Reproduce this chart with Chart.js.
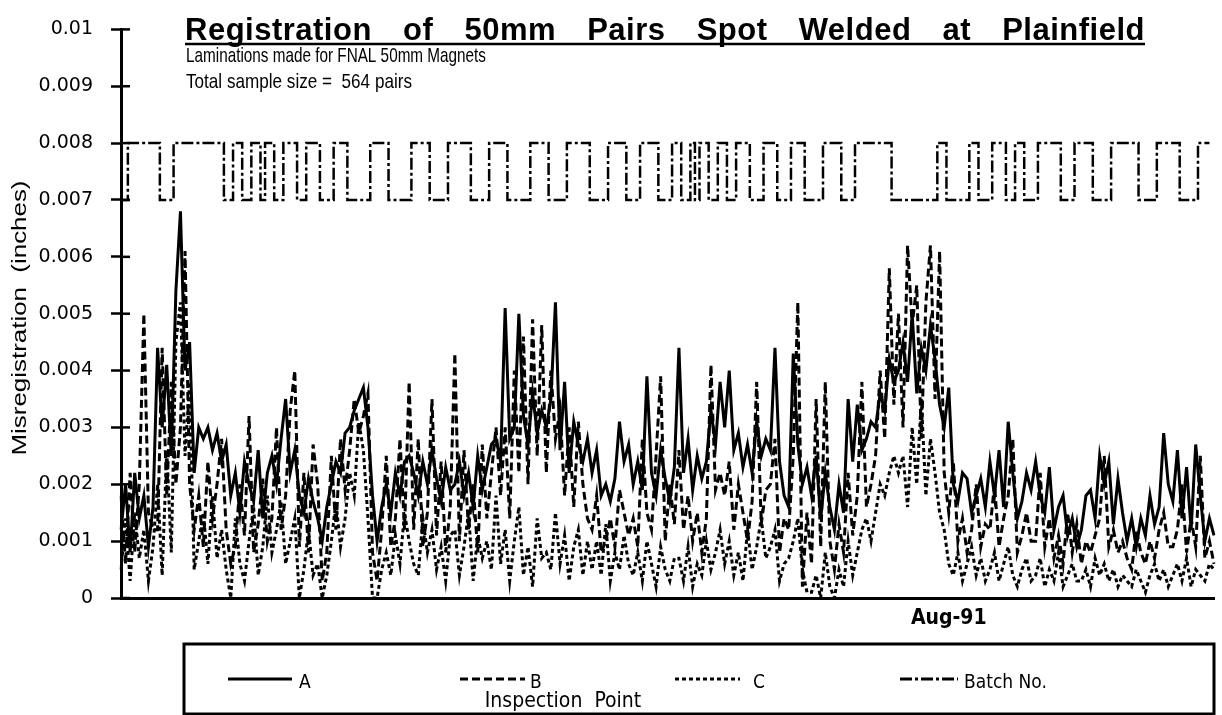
<!DOCTYPE html>
<html>
<head>
<meta charset="utf-8">
<script src="https://cdn.jsdelivr.net/npm/chart.js@4/dist/chart.umd.min.js"></script>
<style>
  html, body { margin: 0; padding: 0; background: #fff; }
  #wrap { width: 1222px; height: 715px; position: relative; }
</style>
</head>
<body>
<div id="wrap"><canvas id="chart"></canvas></div>
<script>
  // values are in units of 0.0001 inch (so 23 = 0.0023")
  const inspA = [
    12, 20, 8,
    22, 14, 18, 9, 16, 44, 30, 41, 25, 54,
    68, 40, 45, 22, 30, 28, 30, 26, 29, 24,
    27, 18, 22, 15, 24, 20, 17, 26, 14, 22,
    25, 20, 28, 35, 22, 26, 18, 15, 21, 17,
    14, 10, 16, 20, 24, 22, 29, 30, 33, 35,
    37, 30, 18, 10, 16, 20, 15, 22, 18, 24,
    25, 22, 18, 24, 20, 26, 21, 17, 23, 19,
    20, 24, 18, 22, 16, 25, 19, 23, 27, 28,
    24, 51, 28, 30, 50, 32, 27, 36, 29, 33,
    30, 35, 52, 26, 38, 22, 31, 27, 24, 28,
    22, 26, 18, 20, 17, 21, 31, 24, 27,
    20, 24, 19, 39, 22, 18, 26, 21, 17, 23,
    44, 22, 28, 19, 25, 21, 24, 33, 27, 38,
    30, 40, 26, 29, 23, 27, 22, 31, 25, 28,
    26, 44, 24, 18, 16, 43, 27, 20, 23,
    18, 25, 14, 22, 16, 12, 20, 15, 35, 24,
    34, 26, 28, 31, 30, 36, 33, 42, 38,
    40, 45, 38, 50, 36, 44, 40, 48, 42, 34,
    30, 37, 20, 17, 22, 21, 15, 18, 21, 16,
    24, 18, 26, 16, 31, 22, 14, 17, 22, 19,
    24, 18, 15, 23, 12, 16, 18, 11, 14, 9,
    12, 18, 19, 14, 25, 20, 24, 13, 21, 15,
    10, 14, 9, 14, 11, 18, 13, 16, 29, 20,
    17, 26, 14, 23, 12, 27, 18, 10, 14, 11
  ];
  const inspB = [
    18, 6, 22,
    8, 20, 50, 15, 12, 12, 44, 18, 38, 20,
    30, 61, 20, 12, 18, 9, 24, 14, 20, 28,
    12, 6, 9, 20, 11, 32, 8, 13, 21, 10,
    14, 30, 12, 18, 33, 40, 9, 22, 8, 27,
    20, 3, 8, 25, 12, 28, 19, 26, 35, 29,
    32, 36, 8, 3, 12, 25, 9, 14, 28, 12,
    38, 12, 28, 9, 15, 35, 11, 24, 8, 16,
    43, 10, 26, 12, 20, 8, 27, 14, 22, 30,
    18, 30, 14, 40, 22, 46, 20, 49, 25, 48,
    22, 40, 28, 33, 18, 30, 16, 31, 20, 14,
    12, 18, 8, 10, 14, 9, 19, 15, 11,
    14, 9, 28, 15, 12, 25, 39, 10, 20, 13,
    26, 12, 18, 10, 15, 8, 14, 41, 19, 22,
    18, 24, 12, 20, 15, 10, 17, 38, 13, 19,
    20, 28, 8, 14, 12, 25, 52, 2, 15,
    6, 35, 9, 38, 10, 5, 13, 8, 22, 11,
    18, 38, 16, 20, 25, 40, 28, 58, 34,
    50, 30, 62, 48, 55, 28, 52, 62, 35, 61,
    22, 15, 24, 10, 14, 8, 12, 20, 9, 13,
    12, 20, 9, 14, 18, 28, 8, 11, 15, 10,
    10, 22, 9, 14, 7, 11, 6, 15, 8, 13,
    6, 10, 8, 11, 14, 25, 9, 12, 8, 10,
    7, 5, 12, 8, 6, 10, 7, 12, 15, 9,
    9, 12, 20, 8, 14, 9, 25, 7, 10, 6
  ];
  const inspC = [
    5, 14, 3,
    15, 7, 12, 3, 9, 20, 4, 26, 8, 45,
    52, 25, 38, 5, 10, 15, 6, 18, 7, 12,
    5, 0, 14, 6, 3, 10, 16, 4, 9, 18,
    8, 12, 17, 6, 10, 14, 0, 5, 12, 4,
    6, 0, 4, 10, 17, 9, 14, 22, 18, 31,
    26, 14, 0, 0, 5, 8, 4, 11, 6, 15,
    10, 6, 4, 14, 8, 12, 5, 9, 3, 11,
    12, 4, 9, 15, 3, 11, 7, 10, 5, 18,
    6, 12, 3, 10, 16, 4, 9, 2, 14, 7,
    8, 5, 15, 6, 11, 3, 9, 12, 4, 10,
    5, 10, 4, 13, 3, 8, 5, 11, 6,
    4, 8, 3, 10, 6, 2, 9, 5, 3, 7,
    7, 3, 9, 2, 6, 4, 10, 5, 8, 12,
    6, 10, 4, 8, 3, 12, 5, 9, 14, 7,
    9, 12, 3, 6, 7, 10, 14, 5, 1,
    1, 4, 0, 8, 2, 0, 5, 2, 10, 4,
    8, 12, 14, 10, 15, 20, 18, 22, 25,
    22, 25, 16, 30, 20, 35, 18, 28, 22, 15,
    12, 6, 4, 8, 3, 6, 9, 4, 7, 3,
    5, 8, 3, 6, 9, 4, 2, 5, 7, 3,
    4, 7, 2, 5, 3, 8, 2, 4, 6, 3,
    3, 5, 2, 7, 4, 6, 3, 5, 2, 4,
    3, 2, 5, 3, 1, 4, 6, 3, 5, 2,
    4, 6, 3, 7, 2, 5, 4, 3, 6, 5
  ];
  // batch marker toggles between 0.007 and 0.008
  const batchNo = [
    70, 70, 80, 80, 80, 80, 80, 80, 80, 70,
    70, 70, 80, 80, 80, 80, 80, 80, 80, 80,
    80, 80, 80, 70, 70, 80, 80, 70, 70, 80,
    80, 70, 80, 80, 70, 70, 80, 80, 80, 70,
    70, 80, 80, 80, 70, 70, 70,
    80, 80, 80, 70, 70, 70, 70, 70, 80, 80, 80, 80,
    70, 70, 70, 70, 70, 80, 80, 80, 80, 70, 70, 70, 70,
    80, 80, 80, 80, 80, 70, 70, 70, 70, 80, 80, 80, 80,
    70, 70, 70, 70, 70, 80, 80, 80, 80, 70, 70, 70, 70,
    80, 80, 80, 80, 80, 70, 70, 70, 70, 80, 80, 80, 80,
    70, 70, 70, 80, 80, 80, 80, 70, 70, 70,
    80, 80, 70, 70, 80, 70, 80, 80, 70, 70, 80, 80, 70, 70,
    80, 80, 80, 70, 70, 70, 80, 80, 80, 70, 70, 70, 80, 80, 80,
    70, 70, 70, 70, 80, 80, 80, 80, 70, 70, 70,
    80, 80, 80, 80, 80, 80, 80, 80,
    70, 70, 70, 70, 70, 70, 70, 70, 70, 70,
    80, 80, 70, 70, 70, 70, 70, 80, 80, 70, 70, 70,
    80, 80, 80, 70, 70, 80, 80, 70, 70, 70,
    80, 80, 80, 80, 80, 70, 70, 70, 80, 80, 80, 80,
    70, 70, 70, 70, 80, 80, 80, 80, 80, 80,
    70, 70, 70, 70, 80, 80, 80, 80, 80,
    70, 70, 70, 70, 80, 80, 80
  ];
  const xTickText = ['Aug-91'];
  const xTickAt = [181];
  const yTickLabels = ['0', '0.001', '0.002', '0.003', '0.004', '0.005',
    '0.006', '0.007', '0.008', '0.009', '0.01'];
  const seriesNames = ['A', 'B', 'C', 'Batch No.'];

  const sans = "'Liberation Sans', Arial, sans-serif";
  const condensed = "'DejaVu Sans Condensed', 'Liberation Sans', Arial, sans-serif";
  const labels = inspA.map((v, i) => {
    const k = xTickAt.indexOf(i);
    return k >= 0 ? xTickText[k] : '';
  });

  const dashes = [[], [8, 4], [4, 3], [12, 3, 3, 3]];

  const line = (data, idx, extra) => Object.assign({
    label: seriesNames[idx],
    data: data,
    borderColor: '#000',
    borderWidth: 3,
    borderDash: dashes[idx],
    pointRadius: 0,
    tension: 0,
    fill: false,
  }, extra || {});

  // squeeze text horizontally to a given width (the original uses a narrow face)
  function fitText(ctx, text, x, y, width, align) {
    const w = ctx.measureText(text).width;
    const k = width / w;
    ctx.save();
    ctx.translate(x, y);
    ctx.scale(k, 1);
    ctx.textAlign = align || 'left';
    ctx.fillText(text, 0, 0);
    ctx.restore();
  }

  const decorations = {
    id: 'decorations',
    afterDraw(chart) {
      const ctx = chart.ctx;
      const y = chart.scales.y;
      const left = chart.chartArea.left;
      ctx.save();
      ctx.fillStyle = '#000';
      ctx.strokeStyle = '#000';

      // tick marks also poke into the plot a little
      ctx.lineWidth = 2.5;
      yTickLabels.forEach((t, i) => {
        const py = y.getPixelForValue(i * 10);
        ctx.beginPath();
        ctx.moveTo(left, py);
        ctx.lineTo(left + 9, py);
        ctx.stroke();
      });

      // title, spread word by word, underlined
      const words = ['Registration', 'of', '50mm', 'Pairs', 'Spot', 'Welded', 'at', 'Plainfield'];
      ctx.font = 'bold 31px ' + sans;
      if ('letterSpacing' in ctx) ctx.letterSpacing = '0.5px';
      ctx.textBaseline = 'alphabetic';
      const tx0 = 185, tx1 = 1145;
      const widths = words.map(w => ctx.measureText(w).width);
      const gap = (tx1 - tx0 - widths.reduce((a, b) => a + b, 0)) / (words.length - 1);
      let cx = tx0;
      words.forEach((w, i) => {
        ctx.fillText(w, cx, 40);
        cx += widths[i] + gap;
      });
      if ('letterSpacing' in ctx) ctx.letterSpacing = '0px';
      ctx.lineWidth = 2.5;
      ctx.beginPath();
      ctx.moveTo(tx0, 44);
      ctx.lineTo(tx1, 44);
      ctx.stroke();

      ctx.font = '21px ' + sans;
      fitText(ctx, 'Laminations made for FNAL 50mm Magnets', 186, 62, 300);
      fitText(ctx, 'Total sample size =  564 pairs', 186, 88, 226);

      // y axis title
      ctx.save();
      ctx.translate(26, 318);
      ctx.rotate(-Math.PI / 2);
      ctx.font = '20px ' + sans;
      fitText(ctx, 'Misregistration  (inches)', 0, 0, 275, 'center');
      ctx.restore();

      // legend box
      ctx.lineWidth = 3;
      ctx.strokeRect(184, 644, 1030, 70);
      const items = [
        { x0: 228, x1: 292, tx: 299 },
        { x0: 460, x1: 525, tx: 530 },
        { x0: 675, x1: 740, tx: 753 },
        { x0: 900, x1: 958, tx: 964 },
      ];
      ctx.font = '19px ' + condensed;
      items.forEach((it, i) => {
        ctx.lineWidth = 3;
        ctx.setLineDash(dashes[i]);
        ctx.beginPath();
        ctx.moveTo(it.x0, 679);
        ctx.lineTo(it.x1, 679);
        ctx.stroke();
        ctx.setLineDash([]);
        ctx.fillText(seriesNames[i], it.tx, 688);
      });
      ctx.font = '21px ' + condensed;
      ctx.textAlign = 'center';
      ctx.fillText('Inspection  Point', 563, 707);
      ctx.restore();
    },
  };

  new Chart(document.getElementById('chart'), {
    type: 'line',
    data: {
      labels: labels,
      datasets: [
        line(inspA, 0),
        line(inspB, 1),
        line(inspC, 2),
        line(batchNo, 3, { stepped: 'middle', borderWidth: 2.5 }),
      ],
    },
    options: {
      responsive: true,
      maintainAspectRatio: false,
      animation: false,
      layout: { padding: { top: 22, right: 0, left: 0, bottom: 0 } },
      plugins: {
        legend: { display: false },
        tooltip: { enabled: false },
      },
      scales: {
        x: {
          type: 'category',
          offset: false,
          afterFit: (s) => { s.height = 117; },
          grid: { display: true, drawOnChartArea: false, drawTicks: false },
          border: { display: true, color: '#000', width: 3 },
          ticks: {
            autoSkip: false,
            maxRotation: 0,
            padding: 8,
            color: '#000',
            font: { family: condensed, size: 21, weight: 'bold' },
          },
        },
        y: {
          min: 0,
          max: 100,
          afterFit: (s) => { s.width = 121; },
          grid: {
            drawOnChartArea: false,
            drawTicks: true,
            tickLength: 10,
            tickWidth: 2.5,
            tickColor: '#000',
          },
          border: { display: true, color: '#000', width: 3 },
          ticks: {
            stepSize: 10,
            padding: 18,
            color: '#000',
            font: { family: "'DejaVu Sans', Arial, sans-serif", size: 19 },
            callback: (v, i) => yTickLabels[i],
          },
        },
      },
    },
    plugins: [decorations],
  });
</script>
</body>
</html>
